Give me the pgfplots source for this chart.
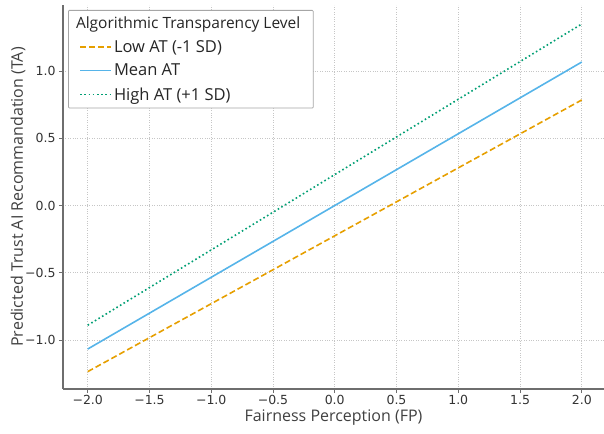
\documentclass[border=0pt]{standalone}
\usepackage{pgfplots}
\pgfplotsset{compat=1.18}
\usepackage{fontspec}
\setmainfont{Open Sans}
\newfontfamily\dejavu{DejaVu Sans}
\definecolor{cLow}{HTML}{E69F00}
\definecolor{cMean}{HTML}{56B4E9}
\definecolor{cHigh}{HTML}{009E73}
\definecolor{spine}{HTML}{6E6E6E}
\begin{document}
\begin{tikzpicture}
\path[use as bounding box] (0pt,0pt) rectangle (604pt,433pt);
\begin{axis}[
  at={(63pt,44pt)}, anchor=south west,
  scale only axis, width=541pt, height=384pt,
  xmin=-2.2, xmax=2.18, ymin=-1.364, ymax=1.491,
  axis x line*=bottom, axis y line*=left,
  axis line style={-, draw=spine, line width=1.3pt},
  tick align=outside, major tick length=4pt,
  tick style={draw=spine, line width=0.8pt},
  xtick={-2,-1.5,-1,-0.5,0,0.5,1,1.5,2},
  xticklabels={−2.0,−1.5,−1.0,−0.5,0.0,0.5,1.0,1.5,2.0},
  ytick={-1,-0.5,0,0.5,1},
  yticklabels={−1.0,−0.5,0.0,0.5,1.0},
  tick label style={font=\dejavu\fontsize{12.5}{14}\selectfont, text=black!80},
  xticklabel style={yshift=1pt},
  grid=major,
  major grid style={dotted, draw=gray!45, line width=0.7pt},
  xlabel={Fairness Perception (FP)},
  ylabel={Predicted Trust AI Recommandation (TA)},
  every axis x label/.style={at={(axis description cs:0.5,0)}, anchor=center, yshift=-29pt, font=\fontsize{16}{18}\selectfont, text=black!75},
  every axis y label/.style={at={(axis description cs:0,0.5)}, anchor=center, rotate=90, yshift=45pt, font=\fontsize{16}{18}\selectfont, text=black!75},
  legend style={at={(0,1)}, anchor=north west, xshift=5pt, yshift=-5pt,
    draw=gray!70, fill=white, line width=0.8pt, rounded corners=1pt,
    font=\fontsize{16.5}{18}\selectfont, text=black!85,
    row sep=6.2pt, inner xsep=11pt, inner ysep=4.5pt},
  legend cell align=left,
  legend image code/.code={\draw[#1] (0pt,0pt) -- (24pt,0pt); \path (0pt,0pt) -- (31pt,0pt);},
]
\addlegendimage{empty legend}
\addlegendentry{\hspace{-38pt}{\fontsize{15.5}{17}\selectfont Algorithmic Transparency Level}}
\addplot[cLow, line width=1.6pt, dash pattern=on 6pt off 3pt] coordinates {(-2,-1.235) (2,0.785)};
\addlegendentry{Low AT (-1 SD)}
\addplot[cMean, line width=1.6pt] coordinates {(-2,-1.067) (2,1.067)};
\addlegendentry{Mean AT}
\addplot[cHigh, line width=1.6pt, dash pattern=on 1.6pt off 2.6pt] coordinates {(-2,-0.89) (2,1.35)};
\addlegendentry{High AT (+1 SD)}
\end{axis}
\end{tikzpicture}
\end{document}
